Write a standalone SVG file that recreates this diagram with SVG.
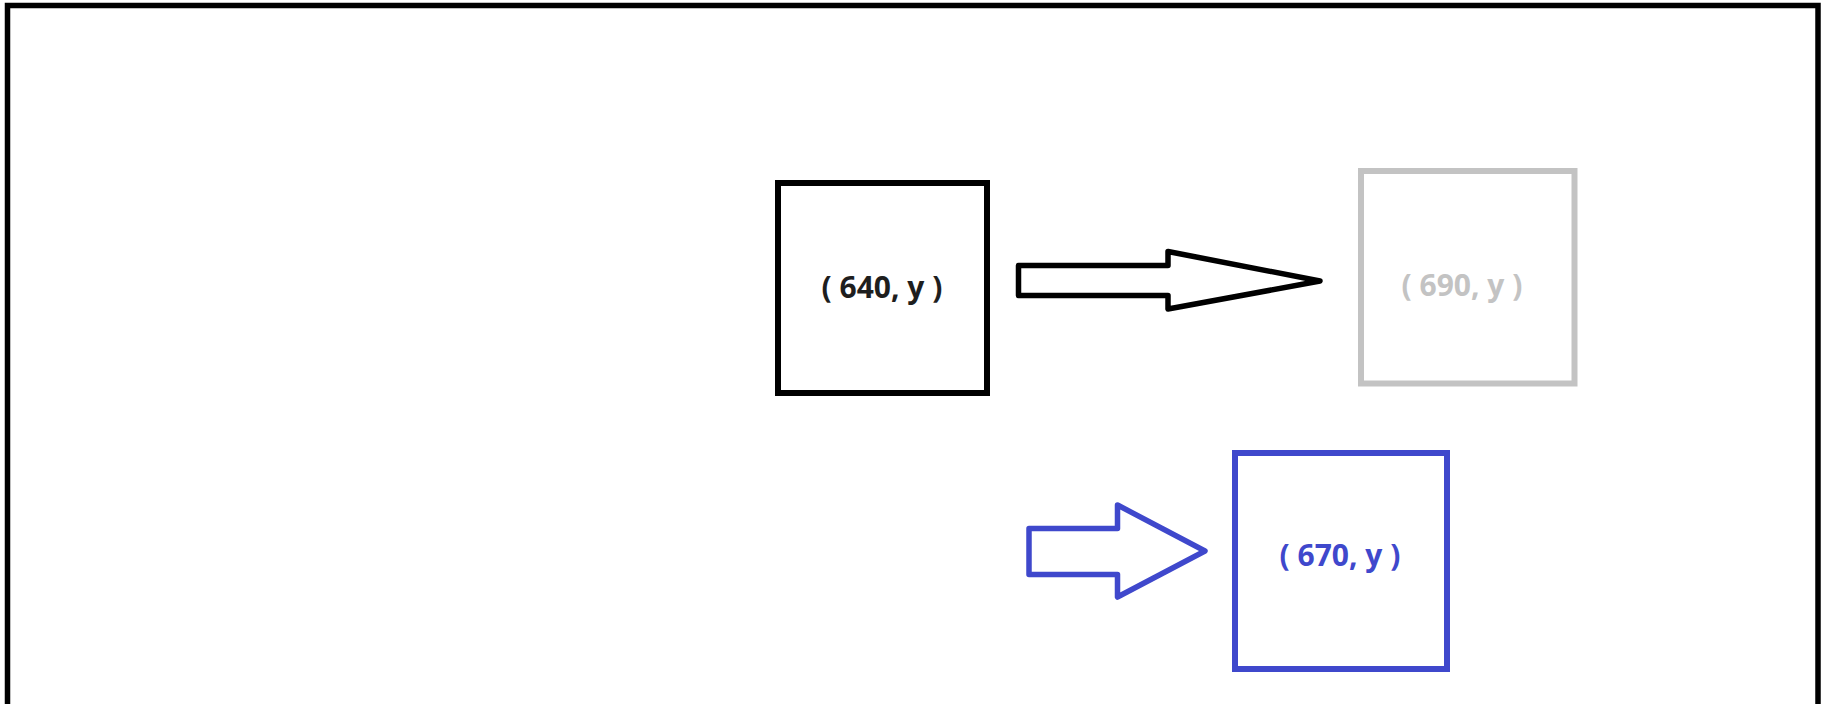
<svg xmlns="http://www.w3.org/2000/svg" width="1824" height="704" viewBox="0 0 1824 704">
<style>
.lbl{font-family:"Open Sans","Liberation Sans",sans-serif;font-weight:bold;font-size:30px;text-anchor:middle}
.box{fill:#fff;stroke-width:6}
.arr{fill:#fff;stroke-width:5.5;stroke-linejoin:round}
</style>
<rect x="0" y="0" width="1824" height="704" fill="#fff"/>
<rect id="frame" x="7.5" y="5.5" width="1810.5" height="720" fill="none" stroke="#000" stroke-width="5.5"/>
<g id="node-640">
<rect class="box" x="778" y="183" width="209" height="210" stroke="#000"/>
<text class="lbl" x="882" y="298" fill="#1e1e1e">( 640, y )</text>
</g>
<g id="node-690">
<rect class="box" x="1361" y="171" width="213.5" height="212.5" stroke="#c3c3c3"/>
<text class="lbl" x="1462" y="296" fill="#c3c3c3">( 690, y )</text>
</g>
<g id="node-670">
<rect class="box" x="1235" y="453" width="212" height="216" stroke="#3f48cc"/>
<text class="lbl" x="1340" y="566" fill="#3f48cc">( 670, y )</text>
</g>
<g id="connectors">
<polygon class="arr" stroke="#000" points="1018.5,265.5 1168,265.5 1168,251.5 1320,281 1168,309 1168,295.5 1018.5,295.5"/>
<polygon class="arr" stroke="#3f48cc" points="1029,528.5 1117.5,528.5 1117.5,505 1205,551 1117.5,597 1117.5,574.5 1029,574.5"/>
</g>
</svg>
